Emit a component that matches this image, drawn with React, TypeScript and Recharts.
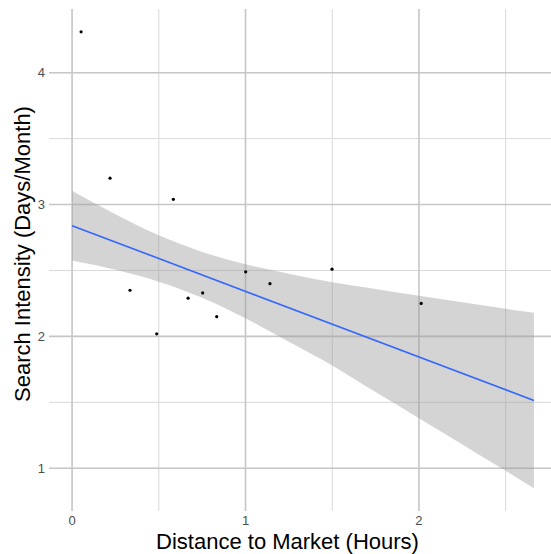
import React from 'react';
import { ComposedChart, XAxis, YAxis, CartesianGrid, Area, Line, Scatter } from 'recharts';

// Observed points (distance in hours, search intensity in days/month)
const pointX = [0.052, 0.219, 0.584, 0.334, 0.488, 0.669, 0.753, 0.834, 1.001, 1.141, 1.499, 2.013];
const pointY = [4.31, 3.2, 3.04, 2.35, 2.02, 2.29, 2.33, 2.15, 2.49, 2.4, 2.51, 2.25];

// Fitted line endpoints
const fitX = [0, 2.663];
const fitY = [2.84, 1.514];

// Confidence band
const bandX = [0, 0.25, 0.5, 0.75, 1, 1.25, 1.5, 1.75, 2, 2.25, 2.5, 2.663];
const bandLow = [2.575, 2.505, 2.415, 2.293, 2.137, 1.96, 1.78, 1.578, 1.38, 1.181, 0.981, 0.849];
const bandHigh = [3.105, 2.927, 2.767, 2.641, 2.547, 2.476, 2.41, 2.36, 2.308, 2.259, 2.209, 2.179];

const xTicks = [0, 1, 2];
const yTicks = [1, 2, 3, 4];
const xMinor = [0.5, 1.5, 2.5];
const yMinor = [1.5, 2.5, 3.5];

const points = pointX.map((x, i) => ({ x, y: pointY[i] }));
const fit = fitX.map((x, i) => ({ x, y: fitY[i] }));
const band = bandX.map((x, i) => ({ x, range: [bandLow[i], bandHigh[i]] }));

const FONT = '"Liberation Sans", Arial, Helvetica, sans-serif';

export default function App() {
  return (
    <div style={{ position: 'absolute', left: 0, top: 0, width: 551, height: 554, overflow: 'hidden', background: '#fff' }}>
      <ComposedChart
        width={560}
        height={554}
        margin={{ top: 9, right: 3, bottom: 0, left: 0 }}
        style={{ fontFamily: FONT }}
      >
        <CartesianGrid
          stroke="#d9d9d9"
          strokeWidth={1}
          horizontalValues={yMinor}
          verticalValues={xMinor}
        />
        <CartesianGrid
          stroke="#c6c6c6"
          strokeWidth={1.6}
          horizontalValues={yTicks}
          verticalValues={xTicks}
        />
        <XAxis
          type="number"
          dataKey="x"
          domain={[-0.133, 2.796]}
          allowDataOverflow
          ticks={xTicks}
          axisLine={false}
          tickLine={false}
          tickSize={0}
          tickMargin={5}
          height={43}
          tick={{ fill: '#4d4d4d', fontSize: 13, fontFamily: FONT }}
          label={(props: any) => (
            <text x={287.5} y={549} textAnchor="middle" fill="#000" fontSize={22} fontFamily={FONT}>
              Distance to Market (Hours)
            </text>
          )}
        />
        <YAxis
          type="number"
          dataKey="y"
          domain={[0.676, 4.483]}
          allowDataOverflow
          ticks={yTicks}
          axisLine={false}
          tickLine={false}
          tickSize={0}
          tickMargin={4}
          width={49}
          tick={{ fill: '#4d4d4d', fontSize: 13, fontFamily: FONT }}
          label={(props: any) => (
            <text
              x={29.5}
              y={254}
              transform="rotate(-90 29.5 254)"
              textAnchor="middle"
              fill="#000"
              fontSize={22}
              fontFamily={FONT}
            >
              Search Intensity (Days/Month)
            </text>
          )}
        />
        <Area
          data={band}
          dataKey="range"
          type="monotone"
          stroke="none"
          fill="#999999"
          fillOpacity={0.42}
          isAnimationActive={false}
          activeDot={false}
          dot={false}
        />
        <Line
          data={fit}
          dataKey="y"
          type="linear"
          stroke="#3366FF"
          strokeWidth={1.6}
          dot={false}
          activeDot={false}
          isAnimationActive={false}
        />
        <Scatter
          data={points}
          dataKey="y"
          fill="#000"
          isAnimationActive={false}
          shape={(p: any) => <circle cx={p.cx} cy={p.cy} r={1.6} fill="#000" />}
        />
      </ComposedChart>
    </div>
  );
}
